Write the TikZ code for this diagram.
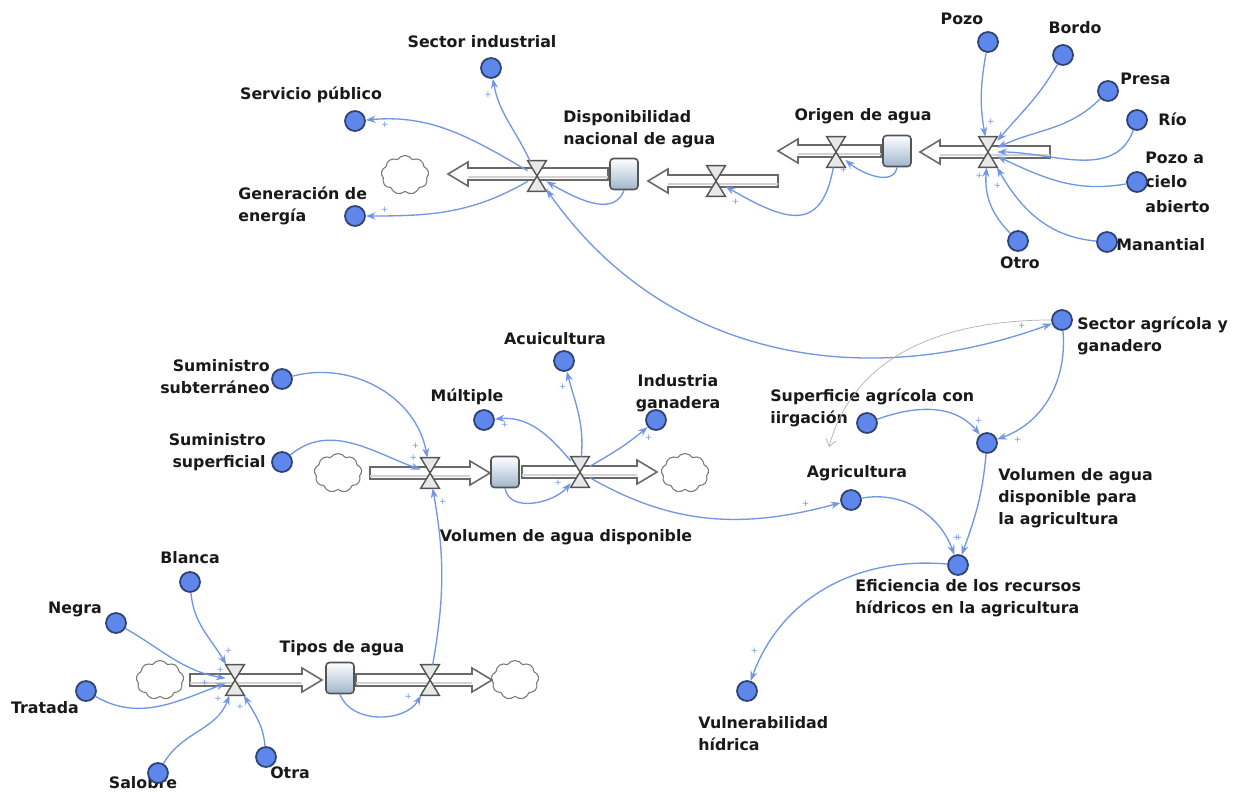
\documentclass[tikz,border=0pt]{standalone}
\usepackage{fontspec}
\setmainfont{DejaVu Sans}
\usetikzlibrary{arrows.meta,shapes.symbols,calc}
\definecolor{linkblue}{RGB}{112,150,228}
\definecolor{auxfill}{RGB}{95,135,235}
\definecolor{auxdraw}{RGB}{45,65,115}
\definecolor{txtcol}{RGB}{25,25,25}
\definecolor{pipegray}{RGB}{105,105,105}
\definecolor{stockbot}{RGB}{160,182,205}
\newcommand{\lblf}{\bfseries\fontsize{9}{12.5}\selectfont}
\newcommand{\flowL}[3]{\draw[pipe] (#1,{#3-6}) -- ({#2+20},{#3-6}) -- ({#2+20},{#3-12}) -- (#2,#3) -- ({#2+20},{#3+12}) -- ({#2+20},{#3+6}) -- (#1,{#3+6}) -- cycle;
  \draw[pipein] (#1,{#3+3}) -- ({#2+20},{#3+3});}
\newcommand{\flowR}[3]{\draw[pipe] (#1,{#3-6}) -- ({#2-20},{#3-6}) -- ({#2-20},{#3-12}) -- (#2,#3) -- ({#2-20},{#3+12}) -- ({#2-20},{#3+6}) -- (#1,{#3+6}) -- cycle;
  \draw[pipein] (#1,{#3+3}) -- ({#2-20},{#3+3});}
\begin{document}
\begin{tikzpicture}[x=0.02cm,y=-0.02cm,
  >={Stealth[length=5.5pt,width=4pt]},
  pipe/.style={draw=pipegray,fill=white,line width=0.9pt,line join=miter},
  pipein/.style={draw=gray!35,line width=0.6pt},
  cloudn/.style={cloud,cloud puffs=9,cloud puff arc=115,aspect=1.2,minimum width=0.95cm,minimum height=0.78cm,draw=pipegray!90,line width=0.6pt,inner sep=0pt},
  stock/.style={rectangle,rounded corners=2pt,minimum width=0.56cm,minimum height=0.62cm,draw=pipegray!80!black,line width=0.9pt,top color=white,bottom color=stockbot,inner sep=0pt},
  valve/.style={rectangle,minimum width=0.36cm,minimum height=0.6cm,inner sep=0pt},
  hg/.style={draw=pipegray!80!black,fill=gray!18,line width=0.8pt,line join=miter},
  aux/.style={circle,minimum size=0.4cm,inner sep=0pt,fill=auxfill,draw=auxdraw,line width=1pt},
  lbl/.style={font=\lblf,text=txtcol,inner sep=0pt,align=left},
  conn/.style={->,draw=linkblue,line width=0.75pt},
  pm/.style={font=\fontsize{5}{5}\selectfont,text=linkblue,inner sep=1.5pt,pos=0.9,auto},
  thing/.style={draw=gray!60,line width=0.4pt,-{Straight Barb[length=4pt,width=6pt]}}
]
\fill[white] (0,0) rectangle (1245,794);
\useasboundingbox (0,0) rectangle (1245,794);

% clouds
\node[cloudn] (c1) at (405,175) {};
\node[cloudn] (c2) at (338,473) {};
\node[cloudn] (c3) at (685,473) {};
\node[cloudn] (c4) at (160,680) {};
\node[cloudn] (c5) at (515,680) {};

% pipes
\flowL{608}{448}{174}
\flowL{778}{648}{181}
\flowL{881}{778}{151}
\flowL{1050}{920}{152}
\flowR{370}{490}{473}
\flowR{522}{657}{472}
\flowR{190}{322}{680}
\flowR{356}{492}{680}

% valves
\node[valve] (v1) at (537,176) {};
\node[valve] (v2) at (716,181) {};
\node[valve] (v3) at (836,152) {};
\node[valve] (v4) at (988,152) {};
\node[valve] (v5) at (430,473) {};
\node[valve] (v6) at (580,472) {};
\node[valve] (v7) at (235,680) {};
\node[valve] (v8) at (430,680) {};
\foreach \v in {v1,v2,v3,v4,v5,v6,v7,v8}
  \draw[hg] (\v.north west) -- (\v.north east) -- (\v.south west) -- (\v.south east) -- cycle;

% stocks
\node[stock] (disp) at (624,174) {};
\node[stock] (orig) at (897,151) {};
\node[stock] (vol) at (505,472) {};
\node[stock] (tipos) at (340,678) {};

% labels
\node[lbl] (l-sind) at (482,42) {Sector industrial};
\node[lbl] (l-spub) at (311,95) {Servicio público};
\node[lbl,anchor=west] (l-gen) at (238,206) {Generación de\\energía};
\node[lbl,anchor=west] (l-disp) at (563,129) {Disponibilidad\\nacional de agua};
\node[lbl] (l-orig) at (863,116) {Origen de agua};
\node[lbl] (l-pozo) at (962,19) {Pozo};
\node[lbl] (l-bordo) at (1075,28) {Bordo};
\node[lbl,anchor=west] (l-presa) at (1120,79) {Presa};
\node[lbl,anchor=west] (l-rio) at (1158,119) {Río};
\node[lbl,anchor=west,font=\bfseries\fontsize{9}{14}\selectfont] (l-pca) at (1145,182) {Pozo a\\cielo\\abierto};
\node[lbl,anchor=west] (l-man) at (1116,245) {Manantial};
\node[lbl] (l-otro) at (1020,263) {Otro};
\node[lbl,align=right,anchor=east] (l-subt) at (270,377) {Suministro\\subterráneo};
\node[lbl,align=right,anchor=east] (l-supf) at (266,452) {Suministro\\superficial};
\node[lbl] (l-mult) at (467,397) {Múltiple};
\node[lbl] (l-acui) at (555,339) {Acuicultura};
\node[lbl,align=center] (l-indg) at (678,393) {Industria\\ganadera};
\node[lbl] (l-vol) at (566,537) {Volumen de agua disponible};
\node[lbl,anchor=west] (l-sag) at (1077,336) {Sector agrícola y\\ganadero};
\node[lbl,anchor=west] (l-sup) at (770,408) {Superficie agrícola con\\iirgación};
\node[lbl,anchor=west] (l-vagr) at (998,498) {Volumen de agua\\disponible para\\la agricultura};
\node[lbl] (l-agr) at (857,473) {Agricultura};
\node[lbl,anchor=west] (l-efi) at (855,598) {Eficiencia de los recursos\\hídricos en la agricultura};
\node[lbl,anchor=west] (l-vul) at (698,734) {Vulnerabilidad\\hídrica};
\node[lbl] (l-tipos) at (342,648) {Tipos de agua};
\node[lbl] (l-blanca) at (190,558) {Blanca};
\node[lbl] (l-negra) at (75,609) {Negra};
\node[lbl] (l-tratada) at (45,708) {Tratada};
\node[lbl] (l-salobre) at (143,783) {Salobre};
\node[lbl] (l-otra) at (290,773) {Otra};

% auxiliaries
\node[aux] (sind) at (491,68) {};
\node[aux] (spub) at (355,121) {};
\node[aux] (gen) at (355,216) {};
\node[aux] (pozo) at (988,42) {};
\node[aux] (bordo) at (1063,55) {};
\node[aux] (presa) at (1108,91) {};
\node[aux] (rio) at (1137,120) {};
\node[aux] (pca) at (1137,182) {};
\node[aux] (man) at (1107,242) {};
\node[aux] (otro) at (1018,241) {};
\node[aux] (subt) at (282,379) {};
\node[aux] (supf) at (282,462) {};
\node[aux] (mult) at (484,420) {};
\node[aux] (acui) at (564,361) {};
\node[aux] (indg) at (656,420) {};
\node[aux] (sag) at (1062,320) {};
\node[aux] (sup) at (867,423) {};
\node[aux] (vagr) at (987,443) {};
\node[aux] (agr) at (851,500) {};
\node[aux] (efi) at (958,565) {};
\node[aux] (vul) at (747,691) {};
\node[aux] (blanca) at (190,582) {};
\node[aux] (negra) at (116,623) {};
\node[aux] (tratada) at (86,691) {};
\node[aux] (salobre) at (158,773) {};
\node[aux] (otra) at (266,757) {};
\coordinate (agrmark) at (829,447);

% connectors - top
\draw[conn] (v1) to[out=115,in=-80] node[pm]{+} (sind);
\draw[conn] (v1) to[out=150,in=5] node[pm]{+} (spub);
\draw[conn] (v1) to[out=-150,in=0] node[pm,swap]{+} (gen);
\draw[conn] (disp.south) to[out=-110,in=-30] node[pm]{+} (v1);
\draw[conn,<->] (v1) to[out=-55,in=200] node[pm,pos=0.96]{+} (sag);
\draw[thing] (sag) to[out=180,in=75] (agrmark);
\draw[conn] (orig.south) to[out=-100,in=-40] node[pm]{+} (v3);
\draw[conn] (v3) to[out=-100,in=-30,looseness=1.6] node[pm]{+} (v2);
\draw[conn] (pozo) to[out=-100,in=100] node[pm]{+} (v4);
\draw[conn] (bordo) to[out=-120,in=50] (v4);
\draw[conn] (presa) to[out=-135,in=25] (v4);
\draw[conn] (rio) to[out=-110,in=0] (v4);
\draw[conn] (pca) to[out=190,in=-25] (v4);
\draw[conn] (man) to[out=175,in=-60] node[pm]{+} (v4);
\draw[conn] (otro) to[out=135,in=-95] node[pm]{+} (v4);
% middle
\draw[conn] (subt) to[out=15,in=100] node[pm,swap]{+} (v5);
\draw[conn] (supf) to[out=40,in=160] node[pm]{+} (v5);
\draw[conn] (v8) to[out=80,in=-80] node[pm,swap]{+} (v5);
\draw[conn] (vol.south) to[out=-80,in=-130] node[pm]{+} (v6);
\draw[conn] (v6) to[out=130,in=5] node[pm]{+} (mult);
\draw[conn] (v6) to[out=85,in=-75] node[pm]{+} (acui);
\draw[conn] (v6) to[out=30,in=-140] node[pm,swap]{+} (indg);
\draw[conn] (v6) to[out=-30,in=195] node[pm]{+} (agr);
% right
\draw[conn] (sag) to[out=-85,in=20] node[pm]{+} (vagr);
\draw[conn] (sup) to[out=20,in=130] node[pm]{+} (vagr);
\draw[conn] (vagr) to[out=-95,in=70] node[pm,swap]{+} (efi);
\draw[conn] (agr) to[out=10,in=110] node[pm]{+} (efi);
\draw[conn] (efi) to[out=175,in=70] node[pm,swap]{+} (vul);
% bottom
\draw[conn] (blanca) to[out=-85,in=120] node[pm]{+} (v7);
\draw[conn] (negra) to[out=-30,in=170] node[pm]{+} (v7);
\draw[conn] (tratada) to[out=-30,in=-160] node[pm]{+} (v7);
\draw[conn] (salobre) to[out=60,in=-110] node[pm]{+} (v7);
\draw[conn] (otra) to[out=95,in=-60] node[pm]{+} (v7);
\draw[conn] (tipos.south) to[out=-70,in=-120] node[pm]{+} (v8);
\end{tikzpicture}
\end{document}
